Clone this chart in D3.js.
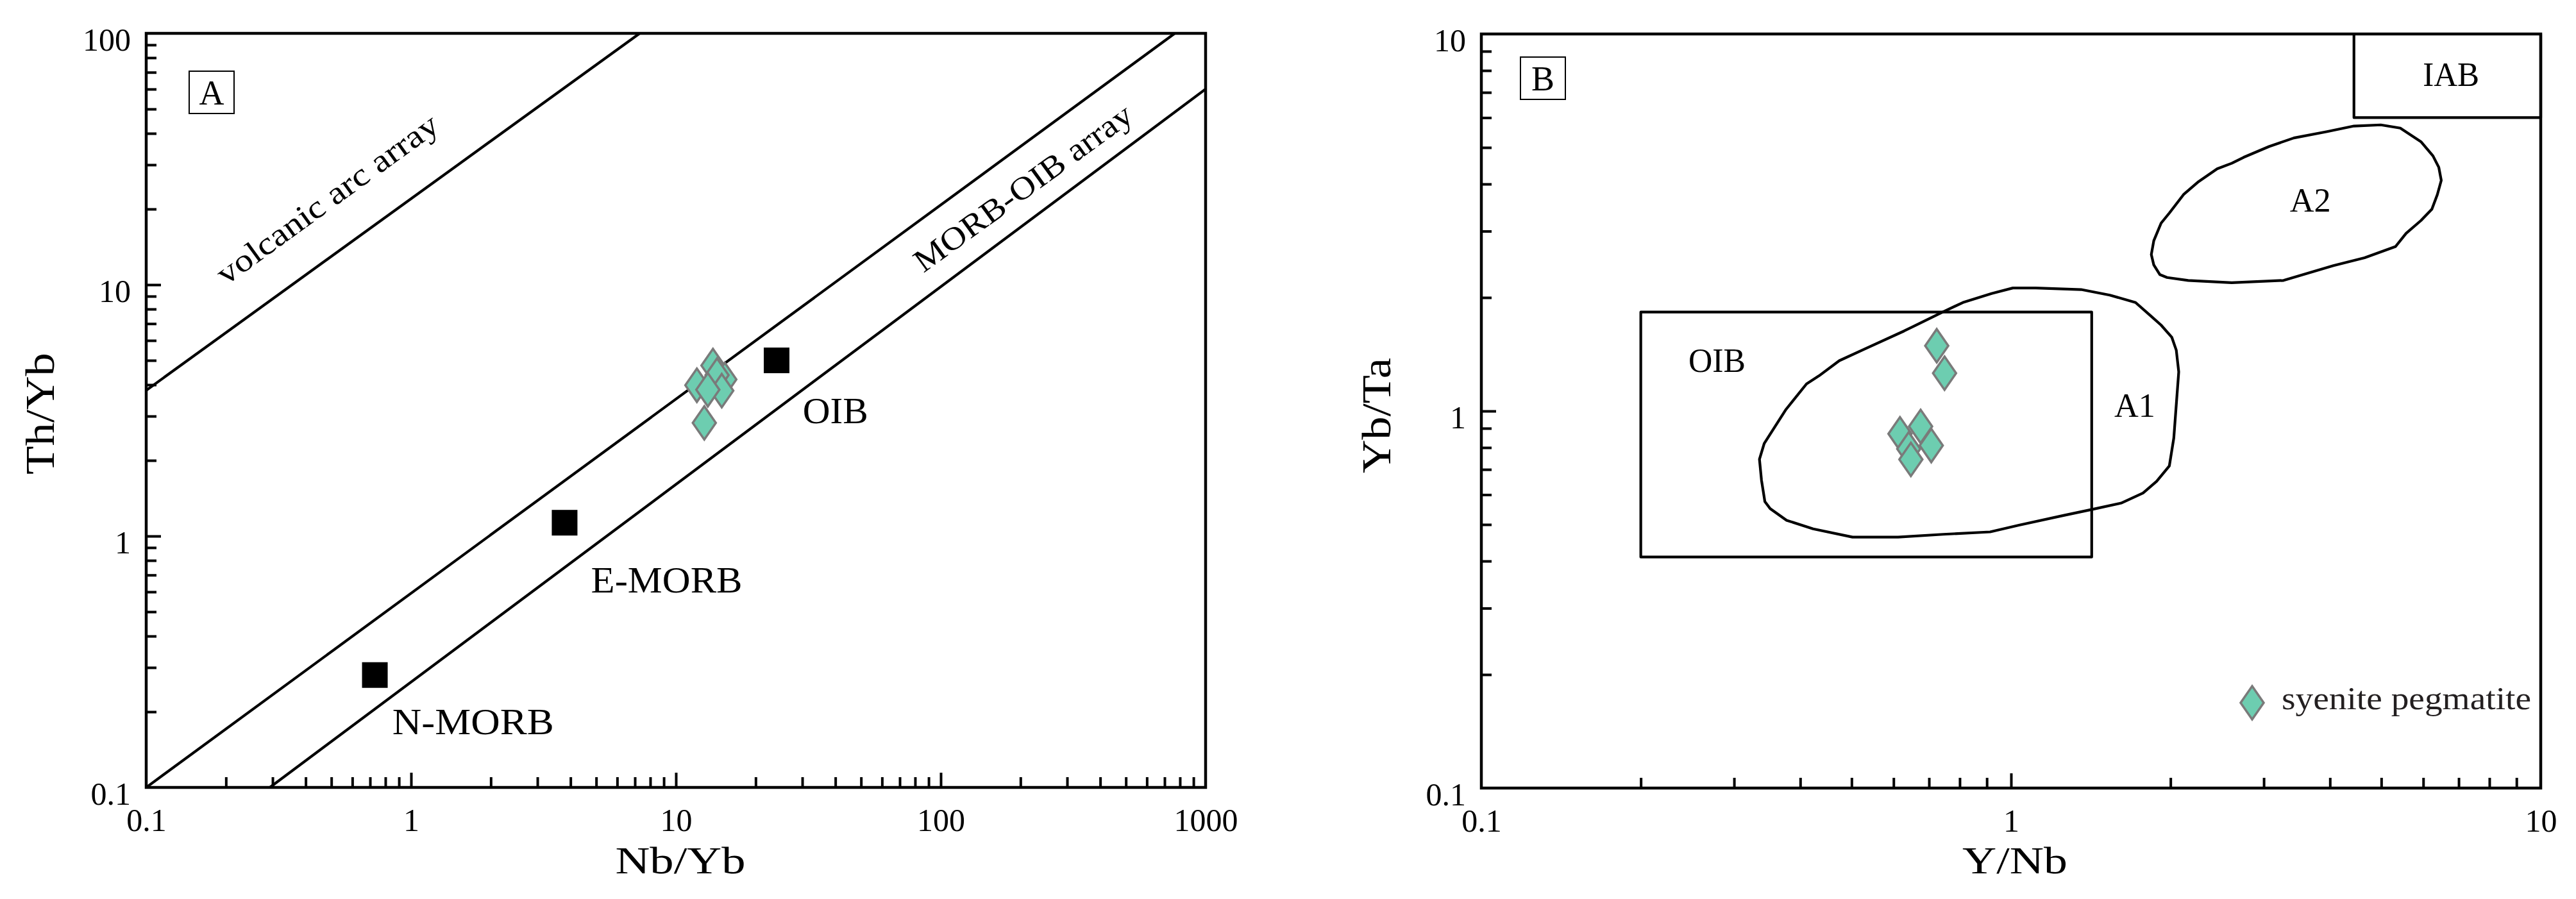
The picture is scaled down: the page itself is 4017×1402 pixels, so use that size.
<!DOCTYPE html>
<html>
<head>
<meta charset="utf-8">
<script src="https://cdn.jsdelivr.net/npm/d3@7"></script>
<style>
  html, body { margin: 0; padding: 0; background: #fff; }
  svg text { font-family: "Liberation Serif", "Times New Roman", serif; fill: #000; }
</style>
</head>
<body>
<svg id="chart" width="4017" height="1402"></svg>
<script>
// ---- panel A : Th/Yb vs Nb/Yb ----
const nbYbTicks = [0.1, 1, 10, 100, 1000];
const thYbTicks = [0.1, 1, 10, 100];
const refNames = ["N-MORB", "E-MORB", "OIB"];
const refNbYb = [0.73, 3.8, 24];
const refThYb = [0.28, 1.13, 5.0];
const sampleNbYb = [13.8, 15.3, 14.3, 12.0, 14.9, 13.2, 12.8];
const sampleThYb = [4.77, 4.20, 4.37, 3.98, 3.79, 3.82, 2.82];
const arcLineNbYb = [0.1, 7.3];
const arcLineThYb = [3.8, 100];
const morbUpperNbYb = [0.1, 765];
const morbUpperThYb = [0.1, 100];
const morbLowerNbYb = [0.293, 1000];
const morbLowerThYb = [0.1, 60];

// ---- panel B : Yb/Ta vs Y/Nb ----
const yNbTicks = [0.1, 1, 10];
const ybTaTicks = [0.1, 1, 10];
const sampleYNb = [0.724, 0.749, 0.617, 0.675, 0.641, 0.647, 0.707];
const sampleYbTa = [1.49, 1.26, 0.870, 0.910, 0.794, 0.744, 0.810];
const oibBoxYNb = [0.2, 1.42];
const oibBoxYbTa = [0.41, 1.83];
const iabBoxYNb = [4.44, 10];
const iabBoxYbTa = [6.0, 10];
const a1YNb = [1.008, 1.113, 1.356, 1.536, 1.718, 1.834, 1.920, 2.011, 2.051, 2.073, 2.051, 2.029, 1.990, 1.883, 1.775, 1.614, 1.419, 1.260, 1.035, 0.913, 0.745, 0.612, 0.502, 0.423, 0.377, 0.351, 0.343, 0.338, 0.335, 0.342, 0.376, 0.411, 0.434, 0.474, 0.529, 0.628, 0.743, 0.811, 0.919];
const a1YbTa = [2.12, 2.12, 2.10, 2.03, 1.94, 1.79, 1.69, 1.57, 1.45, 1.27, 1.04, 0.848, 0.715, 0.651, 0.606, 0.570, 0.548, 0.529, 0.498, 0.478, 0.471, 0.463, 0.463, 0.487, 0.513, 0.551, 0.575, 0.655, 0.745, 0.820, 1.01, 1.18, 1.24, 1.36, 1.46, 1.63, 1.83, 1.94, 2.05];
const a2YNb = [4.44, 4.99, 5.43, 5.94, 6.26, 6.42, 6.49, 6.38, 6.23, 5.94, 5.57, 5.32, 4.65, 4.06, 3.27, 2.61, 2.16, 1.97, 1.91, 1.86, 1.84, 1.86, 1.92, 1.99, 2.12, 2.26, 2.45, 2.61, 2.75, 3.07, 3.42, 3.95];
const a2YbTa = [5.70, 5.74, 5.63, 5.18, 4.75, 4.43, 4.09, 3.75, 3.43, 3.20, 2.96, 2.73, 2.55, 2.43, 2.22, 2.19, 2.22, 2.26, 2.30, 2.44, 2.60, 2.83, 3.15, 3.35, 3.76, 4.06, 4.39, 4.54, 4.71, 5.03, 5.30, 5.51];

const sampleFill = "#6dcdb0";
const sampleStroke = "#7a7a7a";
const svg = d3.select("#chart");
svg.append("rect").attr("width", 4017).attr("height", 1402).attr("fill", "#fff");

const zip = (a, b) => a.map((v, i) => [v, b[i]]);
const diamond = "M0,-26L18,0L0,26L-18,0Z";

function minorTicks(ticks) {
	const out = [];
	for (let i = 0; i < ticks.length - 1; i++) {
		for (let k = 2; k <= 9; k++) out.push(+(ticks[i] * k).toPrecision(3));
	}
	return out;
}

// frame, ticks and tick labels of one log-log panel
function drawFrame(g, x, y, xTicks, yTicks) {
	const [x0, x1] = x.range(), [y0, y1] = y.range();
	const fmt = d3.format("~g");

	const styleTicks = sel => {
		sel.select(".domain").remove();
		sel.selectAll("line").attr("stroke-width", 4);
	};

	// labels
	g.append("g")
		.attr("transform", `translate(0,${y0})`)
		.call(d3.axisBottom(x).tickValues(xTicks).tickSize(0).tickFormat(fmt))
		.attr("font-size", 50).attr("font-family", null)
		.call(s => s.select(".domain").remove())
		.call(s => s.selectAll("text").attr("y", 68).attr("dy", 0));
	g.append("g")
		.attr("transform", `translate(${x0},0)`)
		.call(d3.axisLeft(y).tickValues(yTicks).tickSize(0).tickFormat(fmt))
		.attr("font-size", 50).attr("font-family", null)
		.call(s => s.select(".domain").remove())
		.call(s => s.selectAll("text").attr("x", -24).attr("y", 26).attr("dy", 0));

	// inward ticks
	const innerX = xTicks.slice(1, -1), innerY = yTicks.slice(1, -1);
	g.append("g").attr("transform", `translate(0,${y0})`)
		.call(d3.axisBottom(x).tickValues(innerX).tickSize(-23).tickFormat(""))
		.call(styleTicks);
	g.append("g").attr("transform", `translate(0,${y0})`)
		.call(d3.axisBottom(x).tickValues(minorTicks(xTicks)).tickSize(-16).tickFormat(""))
		.call(styleTicks);
	g.append("g").attr("transform", `translate(${x0},0)`)
		.call(d3.axisLeft(y).tickValues(innerY).tickSize(-23).tickFormat(""))
		.call(styleTicks);
	g.append("g").attr("transform", `translate(${x0},0)`)
		.call(d3.axisLeft(y).tickValues(minorTicks(yTicks)).tickSize(-16).tickFormat(""))
		.call(styleTicks);

	g.append("rect")
		.attr("x", x0).attr("y", y1)
		.attr("width", x1 - x0).attr("height", y0 - y1)
		.attr("fill", "none").attr("stroke", "#000").attr("stroke-width", 4.5);
}

function panelTag(g, px, py, letter) {
	g.append("rect").attr("x", px).attr("y", py).attr("width", 70).attr("height", 66)
		.attr("fill", "#fff").attr("stroke", "#000").attr("stroke-width", 2);
	g.append("text").attr("x", px + 35).attr("y", py + 52)
		.attr("text-anchor", "middle").attr("font-size", 54).text(letter);
}

function label(g, x, y, xv, yv, text, size, len) {
	const t = g.append("text")
		.attr("x", x(xv)).attr("y", y(yv))
		.attr("font-size", size).text(text);
	if (len) t.attr("textLength", len).attr("lengthAdjust", "spacingAndGlyphs");
	return t;
}

function drawSamples(g, x, y, xs, ys) {
	g.append("g").selectAll("path")
		.data(zip(xs, ys))
		.join("path")
		.attr("d", diamond)
		.attr("transform", d => `translate(${x(d[0])},${y(d[1])})`)
		.attr("fill", sampleFill)
		.attr("stroke", sampleStroke)
		.attr("stroke-width", 3.5)
		.attr("stroke-linejoin", "miter");
}

function axisTitles(g, cx, bottomY, leftX, cy, xText, xLen, yText, yLen) {
	g.append("text").attr("x", cx).attr("y", bottomY).attr("text-anchor", "middle")
		.attr("font-size", 60).attr("textLength", xLen).attr("lengthAdjust", "spacingAndGlyphs").text(xText);
	g.append("text").attr("transform", `translate(${leftX},${cy}) rotate(-90)`).attr("text-anchor", "middle")
		.attr("font-size", 64).attr("textLength", yLen).attr("lengthAdjust", "spacingAndGlyphs").text(yText);
}

// ================= panel A =================
{
	const x = d3.scaleLog().domain([0.1, 1000]).range([228, 1880]);
	const y = d3.scaleLog().domain([0.1, 100]).range([1228, 52]);
	const g = svg.append("g");

	g.append("clipPath").attr("id", "clipA")
		.append("rect").attr("x", 228).attr("y", 52).attr("width", 1652).attr("height", 1176);

	const line = d3.line().x(d => x(d[0])).y(d => y(d[1]));
	const lines = g.append("g").attr("clip-path", "url(#clipA)");
	[zip(arcLineNbYb, arcLineThYb), zip(morbUpperNbYb, morbUpperThYb), zip(morbLowerNbYb, morbLowerThYb)]
		.forEach(pts => {
			lines.append("path").attr("d", line(pts))
				.attr("fill", "none").attr("stroke", "#000").attr("stroke-width", 4.2);
		});

	drawFrame(g, x, y, nbYbTicks, thYbTicks);

	label(g, x, y, 0.2, 9.9, "volcanic arc array", 50, 415)
		.attr("transform", `rotate(-36,${x(0.2)},${y(9.9)})`);
	label(g, x, y, 86, 11.1, "MORB-OIB array", 50, 408)
		.attr("transform", `rotate(-36,${x(86)},${y(11.1)})`);

	// reference compositions
	g.append("g").selectAll("rect")
		.data(zip(refNbYb, refThYb))
		.join("rect")
		.attr("x", d => x(d[0]) - 20).attr("y", d => y(d[1]) - 20)
		.attr("width", 40).attr("height", 40).attr("fill", "#000");
	const refLabelNbYb = [0.85, 4.78, 30.1];
	const refLabelThYb = [0.163, 0.596, 2.81];
	const refLabelLen = [252, 236, 102];
	refNames.forEach((n, i) => label(g, x, y, refLabelNbYb[i], refLabelThYb[i], n, 58, refLabelLen[i]));

	drawSamples(g, x, y, sampleNbYb, sampleThYb);
	panelTag(g, 295, 111, "A");

	axisTitles(g, 1061, 1362, 84, 645, "Nb/Yb", 203, "Th/Yb", 190);
}

// ================= panel B =================
{
	const x = d3.scaleLog().domain([0.1, 10]).range([2310, 3962]);
	const y = d3.scaleLog().domain([0.1, 10]).range([1229, 53]);
	const g = svg.append("g");

	const poly = d3.line().x(d => x(d[0])).y(d => y(d[1])).curve(d3.curveLinearClosed);
	const fieldStyle = p => p.attr("fill", "none").attr("stroke", "#000").attr("stroke-width", 4.2).attr("stroke-linejoin", "round");

	g.append("rect")
		.attr("x", x(oibBoxYNb[0])).attr("y", y(oibBoxYbTa[1]))
		.attr("width", x(oibBoxYNb[1]) - x(oibBoxYNb[0]))
		.attr("height", y(oibBoxYbTa[0]) - y(oibBoxYbTa[1]))
		.call(fieldStyle);
	g.append("rect")
		.attr("x", x(iabBoxYNb[0])).attr("y", y(iabBoxYbTa[1]))
		.attr("width", x(iabBoxYNb[1]) - x(iabBoxYNb[0]))
		.attr("height", y(iabBoxYbTa[0]) - y(iabBoxYbTa[1]))
		.call(fieldStyle);
	g.append("path").attr("d", poly(zip(a1YNb, a1YbTa))).call(fieldStyle);
	g.append("path").attr("d", poly(zip(a2YNb, a2YbTa))).call(fieldStyle);

	drawFrame(g, x, y, yNbTicks, ybTaTicks);

	label(g, x, y, 0.246, 1.27, "OIB", 52, 89);
	label(g, x, y, 1.566, 0.965, "A1", 52, 64);
	label(g, x, y, 3.36, 3.38, "A2", 52, 64);
	label(g, x, y, 5.99, 7.28, "IAB", 52, 88);

	drawSamples(g, x, y, sampleYNb, sampleYbTa);
	panelTag(g, 2371, 89, "B");

	// legend
	const lx = 3962 - 450, ly = 1229 - 133;
	g.append("path").attr("d", diamond).attr("transform", `translate(${lx},${ly})`)
		.attr("fill", sampleFill).attr("stroke", sampleStroke).attr("stroke-width", 3.5);
	g.append("text").attr("x", lx + 46).attr("y", ly + 10)
		.attr("font-size", 50).attr("textLength", 389).attr("lengthAdjust", "spacingAndGlyphs")
		.style("fill", "#231f20").text("syenite pegmatite");

	axisTitles(g, 3142, 1362, 2168, 648, "Y/Nb", 164, "Yb/Ta", 180);
}
</script>
</body>
</html>
